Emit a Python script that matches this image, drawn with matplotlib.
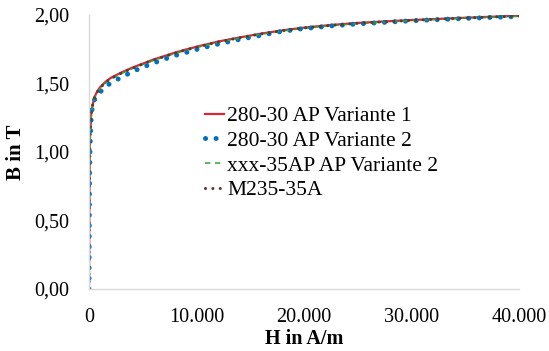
import matplotlib
matplotlib.use("Agg")
import matplotlib.pyplot as plt
from matplotlib.ticker import FuncFormatter, MultipleLocator

# H in A/m, B in T
h_v1 = [0, 20, 50, 100, 200, 300, 500, 750, 1000, 1500, 2000, 3000, 4000, 5000, 6000, 7000,
        8000, 9000, 10000, 12000, 14000, 16000, 18000, 20000, 22500, 25000, 27500, 30000,
        35000, 40000]
b_v1 = [0, 0.35, 0.85, 1.12, 1.27, 1.33, 1.40, 1.44, 1.47, 1.51, 1.54, 1.58, 1.615, 1.645,
        1.675, 1.70, 1.725, 1.748, 1.768, 1.806, 1.836, 1.864, 1.888, 1.908, 1.927, 1.942, 1.953,
        1.963, 1.98, 1.995]

h_v2 = [0, 30, 60, 100, 200, 300, 500, 1180, 1950, 2880, 3880, 4870, 5920, 6980, 8030,
        9090, 10170, 11260, 12280, 13300, 14330, 15380, 17500, 19630, 22500, 25000, 30000,
        35000, 40000]
b_v2 = [0, 0.5, 0.9, 1.05, 1.25, 1.32, 1.38, 1.45, 1.50, 1.54, 1.58, 1.615, 1.647, 1.677, 1.705,
        1.728, 1.752, 1.774, 1.793, 1.81, 1.827, 1.842, 1.875, 1.898, 1.92, 1.935, 1.958,
        1.975, 1.99]

h_xxx = [0, 20, 50, 100, 200, 300, 500, 750, 1000, 1500, 2000, 3000, 4000, 5000, 6000, 7000,
         8000, 9000, 10000, 12000, 14000, 16000, 18000, 20000, 22500, 25000, 27500, 30000,
         35000, 40000]
b_xxx = [0, 0.33, 0.82, 1.10, 1.26, 1.32, 1.39, 1.43, 1.46, 1.50, 1.53, 1.572, 1.608, 1.638,
         1.668, 1.694, 1.719, 1.742, 1.762, 1.80, 1.831, 1.859, 1.883, 1.903, 1.922, 1.937,
         1.949, 1.959, 1.977, 1.99]

h_m235 = [0, 20, 50, 100, 200, 300, 500, 750, 1000, 1500, 2000, 3000, 4000, 5000, 6000, 7000,
          8000, 9000, 10000, 12000, 14000, 16000, 18000, 20000, 22500, 25000, 27500, 30000,
          35000, 40000]
b_m235 = [0, 0.34, 0.84, 1.11, 1.27, 1.33, 1.395, 1.435, 1.465, 1.505, 1.535, 1.575, 1.61,
          1.642, 1.672, 1.697, 1.722, 1.745, 1.765, 1.803, 1.834, 1.862, 1.886, 1.906, 1.924,
          1.94, 1.951, 1.961, 1.978, 1.993]

labels = ["280-30 AP Variante 1", "280-30 AP Variante 2", "xxx-35AP AP Variante 2", "M235-35A"]

plt.rcParams['font.family'] = ['Liberation Serif', 'DejaVu Serif']

fig = plt.figure(figsize=(5.49, 3.51), dpi=100)
ax = fig.add_axes([89 / 549, 1 - 289 / 351, 430 / 549, 274 / 351])

ax.plot(h_v1, b_v1, color='#d9263a', lw=1.6, label=labels[0])
ax.plot(h_v2, b_v2, color='#0070c0', lw=3.6, linestyle=(0, (0.01, 2.1)),
        dash_capstyle='round', label=labels[1])
ax.plot(h_xxx, b_xxx, color='#3f9a3a', lw=1.1, linestyle=(0, (3.5, 3)), label=labels[2])
ax.plot(h_m235, b_m235, color='#5b3a29', lw=2.2, linestyle=(0, (0.01, 2.4)),
        dash_capstyle='round', label=labels[3])

ax.set_xlim(0, 40000)
ax.set_ylim(0, 2)
ax.xaxis.set_major_locator(MultipleLocator(10000))
ax.yaxis.set_major_locator(MultipleLocator(0.5))
ax.xaxis.set_major_formatter(FuncFormatter(lambda v, p: f"{int(v):,}".replace(",", ".")))
ax.yaxis.set_major_formatter(FuncFormatter(lambda v, p: f"{v:.2f}".replace(".", ",")))
ax.tick_params(length=0, labelsize=14.5, pad=14)

for s in ['top', 'right']:
    ax.spines[s].set_visible(False)
for s in ['left', 'bottom']:
    ax.spines[s].set_color('#d9d9d9')
    ax.spines[s].set_linewidth(1.0)

ax.set_xlabel("H in A/m", fontsize=14.5, fontweight='bold', labelpad=1)
ax.set_ylabel("B in T", fontsize=15, fontweight='bold', labelpad=6)

fig.legend(loc='upper left', bbox_to_anchor=(205 / 549, 1 - 106 / 351), frameon=False,
           fontsize=15.5, handlelength=0.9, handletextpad=0.12, labelspacing=0.22,
           borderpad=0, borderaxespad=0)

fig.savefig("out.png", dpi=100)
